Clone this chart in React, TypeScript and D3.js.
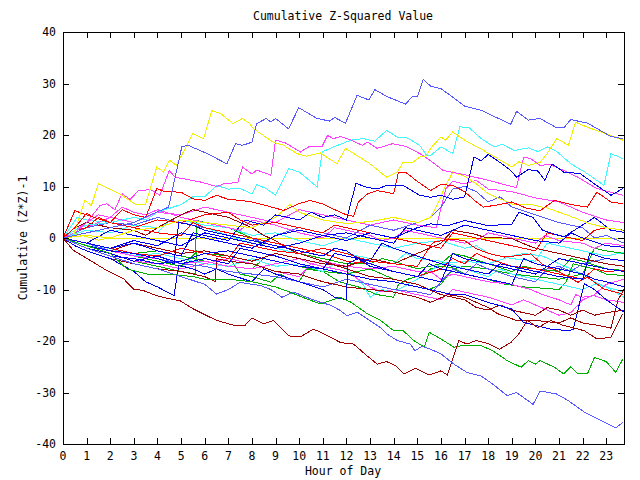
import React from 'react';
import * as d3 from 'd3';

type P = [number, number];

const hourTicks: number[] = d3.range(0, 24);
const valueTicks: number[] = [-40, -30, -20, -10, 0, 10, 20, 30, 40];
const titleText = 'Cumulative Z-Squared Value';
const xLabel = 'Hour of Day';
const yLabel = 'Cumulative (Z*Z)-1';

const RED = '#ff0000';
const DARKRED = '#a00000';
const GREEN = '#00b000';
const BLUE = '#0000ee';
const LIGHTBLUE = '#5858ff';
const MAGENTA = '#ff40ff';
const CYAN = '#40f8ff';
const YELLOW = '#f0f000';

const lightBlueTop: P[] = [[0,0],[1,1],[2,2],[3,3],[3.7,4.5],[4.47,6],[5.03,17.7],[5.3,18],[6.1,16.4],[6.94,14.4],[7.3,18.3],[7.6,18],[8.0,18.6],[8.2,22.2],[8.6,23.2],[8.8,22.5],[9.0,23.2],[9.55,21.2],[9.98,25.3],[10.76,23.2],[11.3,22.7],[11.5,23.4],[11.96,22.3],[12.45,27.7],[12.95,26.8],[13.2,28.8],[13.7,27.5],[14.5,26],[14.8,27.5],[15.0,27.4],[15.25,30.8],[15.56,29.5],[16.0,29],[16.4,27.7],[17.0,25.6],[17.7,24.8],[18.3,23.5],[18.96,22.1],[19.2,24.6],[19.7,22.9],[20.2,23.2],[20.9,21.4],[21.2,21.4],[21.5,23],[22.2,22.3],[23.2,19.7],[23.7,19.3]];
const yellowTop: P[] = [[0,0],[0.44,0.5],[0.93,7.3],[1.2,6.3],[1.5,10.5],[2.4,8.6],[3.05,6.6],[3.5,6.6],[3.97,13.8],[4.25,12.8],[4.5,15.1],[4.8,14.1],[5.5,20.3],[5.95,19.3],[6.3,24.7],[6.66,24.2],[7.2,22.2],[7.6,23.2],[7.9,22.2],[8.07,21.2],[8.9,18.6],[9.34,18],[9.9,16.4],[10.3,15.9],[10.9,16.5],[11.6,14.4],[11.96,17.4],[12.45,16],[13.0,14.4],[13.7,11.8],[14.15,12.8],[14.4,14.7],[14.8,14.7],[15.1,15.7],[15.4,16],[15.56,17.4],[16,19.6],[16.2,19],[16.5,20.6],[17,19],[18,16.5],[19,13.8],[19.3,14.8],[19.7,14.1],[20.2,14.7],[20.5,16.4],[20.9,19.3],[21.4,18],[21.7,22.5],[22.2,21.5],[22.9,20.4],[23.7,19]];
const magentaTop: P[] = [[0,0],[0.5,1],[1,3],[1.57,6.3],[1.85,6.65],[2.2,5.5],[2.5,8.6],[2.84,7.5],[3.2,9.2],[3.7,9.4],[4.1,8.3],[4.5,13.1],[4.75,11.8],[5.8,10.9],[6.5,10],[6.8,10.5],[7.4,10.8],[7.6,13.8],[8.0,12.4],[8.2,13.2],[8.8,12.2],[9.0,19],[9.4,18.5],[10.05,16.7],[10.4,17.7],[10.97,17.8],[11.2,19.9],[11.45,19.3],[11.75,19.7],[12.2,19],[12.67,18],[12.9,18.6],[13.3,17.4],[13.94,18.3],[14.5,17.8],[15.1,16.4],[15.56,15],[16.1,13.1],[17,12.3],[18,11.2],[19,10],[19.2,9.8],[19.5,15.7],[19.8,15.4],[20.2,14.1],[20.6,14.3],[21.2,13.1],[21.8,11.8],[22.6,9.6],[23.7,8.3]];
const cyanTop: P[] = [[0,0],[0.5,1.5],[1,2.5],[2,3],[3,4],[3.5,3.5],[4,5],[5,6.5],[5.5,8],[6,8],[6.5,10.2],[7,9.5],[7.5,9.6],[8.0,8.6],[8.2,10.4],[8.6,9.6],[9.0,8.3],[9.55,13.5],[10,12.8],[10.76,9.9],[10.97,16.7],[11.46,17.7],[12.2,19],[12.7,19.3],[13.2,18.8],[13.7,20.9],[14.15,19.6],[14.6,19.4],[15.1,18],[15.4,16],[15.56,16],[16,17.7],[16.5,16.4],[16.8,21.6],[17.2,21.4],[17.7,19.3],[18.25,17.7],[18.6,18.2],[19.1,17],[19.7,17.5],[20.1,16.8],[20.5,17.7],[20.9,16.8],[21.5,14.4],[22.2,12.5],[22.9,10.2],[23.2,16.4],[23.7,15.4]];
const blueHigh: P[] = [[0,0],[1,-1],[2,-2],[3,-1],[4,-2.5],[5,-3.5],[5.5,1],[6,0.5],[7,-0.5],[7.7,3.5],[8.5,2.5],[9,4.5],[10,3.5],[10.5,5],[11,4],[11.5,4.5],[12,3.5],[12.4,10.6],[12.9,9.8],[13.3,9.5],[13.7,10.2],[14.4,10.2],[15.1,8.3],[15.56,7.9],[16,8.3],[16.5,7.5],[17,8],[17.4,15.7],[17.7,15],[18,16.2],[18.4,15],[18.96,13.1],[19.2,11.8],[19.7,13.3],[20.1,13],[20.4,11.2],[20.7,14.4],[21.2,12.8],[21.9,12.5],[22.5,10.5],[23.2,8.3],[23.7,9.6]];
const redHigh: P[] = [[0,0],[0.5,2],[1,4.8],[1.3,4],[2,3],[2.5,5.5],[3,4.5],[3.5,4],[3.97,9.6],[4.3,9],[5.0,8.9],[5.5,7.6],[6,7.3],[6.5,8.3],[7,7.5],[7.5,7.3],[8,7],[8.6,6.3],[9.34,5.35],[9.98,6.65],[10.47,7.3],[11,6.6],[11.5,5.5],[12,4.5],[12.3,4.2],[12.5,7],[12.9,8.6],[13.3,9.2],[14,8.6],[14.2,12.8],[14.5,12.8],[15,11],[15.56,9.2],[16,10.4],[16.5,10.2],[17,9],[17.5,7],[17.8,6],[18.5,6.5],[19,7],[19.6,5.8],[20.2,5.3],[20.8,7.3],[21.5,6.5],[22.2,6],[22.6,8.9],[23.2,7],[23.7,6.65]];
const yellowMid: P[] = [[0,0],[1,0.5],[2,0],[3,1.5],[4,2],[5,3.5],[6,3],[7,2.5],[8,2],[9,4],[9.6,6.5],[10,5],[11,3.5],[12,2.8],[13,3.2],[14,4],[15,3],[15.56,4],[16,7.9],[16.1,9.2],[16.5,12.8],[17,12],[17.5,10.5],[18,8.6],[19,6.6],[19.8,6.5],[20.5,5.8],[21.2,4.7],[22.3,2.8],[23,2],[23.7,1.5]];
const yellowFlat: P[] = [[0,0],[0.5,0.8],[1,0.3],[1.5,-0.4],[2,0],[23.75,0]];
const magentaMid: P[] = [[0,0],[1,2],[2,4],[3,3],[4,5],[5,4.5],[6,6],[7,5],[8,4],[9,3],[10,5.5],[11,4.5],[12,3.5],[13,2.5],[14,3.5],[15,2.5],[15.8,2],[16.2,9.5],[16.5,11],[17,10.5],[17.5,11.2],[18,9.5],[19,9],[20,7.8],[21,7],[22,5],[23,3.5],[23.75,3]];
const lightBlueBottom: P[] = [[0,0],[1,-2],[2,-3.5],[3,-5],[4,-6],[5,-7.5],[6,-9],[6.5,-10.9],[7,-10],[7.5,-8.6],[8,-9],[8.35,-9.2],[8.8,-10],[9.27,-11.5],[9.77,-10.5],[10.3,-11.5],[10.9,-12.5],[11.3,-13],[11.75,-14.1],[12.03,-15.1],[12.45,-14.4],[12.88,-15.7],[13.44,-17.4],[13.7,-18.6],[14.15,-19.9],[14.7,-20.6],[14.9,-21.9],[15.2,-21],[15.56,-21.6],[16,-22.5],[16.55,-24.5],[17.1,-26.1],[17.7,-26.8],[18.2,-28.4],[18.8,-30.6],[19.2,-30],[19.9,-32.3],[20.2,-29.7],[20.9,-30.3],[21.4,-31.6],[22.1,-33.9],[22.8,-35.5],[23.4,-36.9],[23.7,-35.8]];
const greenBottom: P[] = [[0,0],[1,-1.5],[2,-3],[2.7,-6],[3.55,-7],[4.5,-7],[5.5,-7.5],[6,-8],[7,-8],[8,-8.5],[9,-9.5],[9.6,-10.5],[10.3,-11.8],[10.9,-12.8],[11.4,-12],[11.75,-11.5],[12.2,-12.5],[12.88,-14.7],[13.44,-16],[14,-18],[14.4,-18],[14.85,-19.9],[15.3,-21.2],[15.5,-18.3],[16,-19.6],[16.55,-21.2],[17,-20.8],[17.7,-20.9],[18.2,-21.9],[18.8,-23.8],[19.4,-25.1],[19.7,-23.8],[20,-24.5],[20.2,-23.8],[20.8,-25.1],[21.2,-26.4],[21.5,-25],[21.8,-26.4],[22.2,-26.4],[22.5,-23.2],[23,-24],[23.4,-26.1],[23.7,-23.5]];
const darkRedBottom: P[] = [[0,0],[0.44,-2.4],[1.2,-4.5],[1.85,-6.3],[2.56,-7.9],[2.98,-9.9],[3.4,-10.2],[3.97,-11.2],[4.5,-11.8],[4.96,-12.2],[5.53,-13.8],[6.1,-15.1],[6.5,-16],[7.2,-16.9],[7.7,-17],[8,-15.5],[8.5,-16.7],[8.9,-16],[9.55,-19],[10.05,-19.2],[10.6,-17.7],[11,-18.5],[11.75,-20.3],[12.3,-20.6],[12.88,-22.9],[13.3,-24.5],[13.7,-24],[14.08,-24.8],[14.43,-26.4],[14.93,-25.3],[15.5,-26.6],[16,-25.8],[16.27,-26.6],[16.76,-19.9],[17.1,-20.6],[17.5,-19.9],[18,-20.5],[18.47,-21.6],[18.96,-20.3],[19.3,-18.6],[19.66,-16],[20.1,-17.4],[20.65,-16],[21.2,-17],[22.07,-18],[22.6,-19.6],[23.2,-19.3],[23.7,-14.7]];
const blueLow: P[] = [[0,0],[1,-2],[2,-3.5],[3,-4],[4,-5],[5,-4.5],[6,-3],[7,-2.5],[8,-3.5],[9,-4.5],[10,-5.5],[11,-6],[12,-7],[13,-8],[14,-8.5],[15,-9.5],[16,-10.5],[16.4,-10.9],[17,-11],[18,-12.5],[19,-13.8],[19.5,-16.4],[20.65,-17.7],[21.4,-18],[21.6,-17.7],[22.07,-8.9],[22.5,-10],[23,-12],[23.75,-14.4]];
const darkRedMid: P[] = [[0,0],[0.5,-1.5],[1,-2.5],[2,-4],[3,-5],[4,-6],[5,-6.5],[6,-7.5],[6.45,-8.5],[6.5,-4],[7,-4.5],[8,-5],[9,-6.5],[10,-7],[11,-8.5],[12,-9.5],[13,-10],[14,-10.5],[15,-11.5],[15.56,-12.5],[16.3,-11],[17,-11.5],[18,-13.5],[18.4,-14.7],[19.2,-16],[20,-16],[21,-16.5],[21.5,-15.5],[22,-16.5],[22.7,-17],[23.2,-17.5],[23.5,-12],[23.75,-10]];
const darkRedLate: P[] = [[0,0],[1,-1.5],[2,-2.5],[3,-1],[4,-2],[5,-3],[6,-2.5],[7,-3.5],[8,-4.5],[9,-3],[10,-4],[11,-5],[12,-5.5],[13,-4],[14,-5],[15,-3],[16,-1],[16.5,1.5],[17.4,0.8],[17.8,0.2],[19,-0.1],[19.5,-1.1],[20,-2],[21,-3],[22,-4],[23,-5],[23.75,-5.5]];
const greenMid: P[] = [[0,0],[1,-1.5],[2,-3],[3,-4.5],[4,-5.5],[5,-6.5],[5.6,-7],[5.65,-2.5],[6,-3],[7,-3.5],[7.5,-7],[8,-7.5],[8.8,-8.6],[9.2,-7],[9.6,-7.9],[10,-8.5],[10.3,-6],[11,-6.5],[11.7,-8.5],[12.5,-9.5],[13.3,-11],[14,-11.5],[14.2,-9],[14.6,-8],[15.3,-7],[15.56,-6],[16,-5.5],[16.5,-5.8],[17,-7],[18,-8],[18.5,-8.8],[19.5,-9.5],[20.5,-9.8],[21,-10],[21.3,-8.5],[21.6,-5],[22,-5.5],[22.5,-6],[23,-7],[23.75,-7.3]];
const greenUpper: P[] = [[0,0],[1,-1],[2,-2.5],[3,-3.5],[4,-4.5],[5,-5.5],[5.6,-3],[5.67,3.4],[6,3],[7,2],[7.5,1],[8,0],[8.5,-1.5],[9,-2],[10,-3],[11,-4],[12,-5],[13,-5],[13.5,-4],[14,-4.5],[15,-6],[16,-5],[16.5,-3],[17,-3.5],[18,-5],[19,-6.5],[19.5,-5.5],[20,-6],[21,-6.5],[21.5,-4],[22,-4.5],[23,-6],[23.75,-6.3]];
const greenLow: P[] = [[0,0],[1,-1.5],[2,-2],[3,-3],[4,-2.5],[5,-3.5],[6,-4.5],[7,-5.5],[8,-6],[8.5,-4],[9,-4.5],[10,-5.5],[11,-6.5],[12,-7],[13,-6],[13.5,-7],[14,-8],[15,-9],[15.5,-10],[16,-9],[16.5,-6],[17,-5.5],[18,-6],[19,-7],[20,-7.5],[21,-8],[22,-7],[22.5,-2],[23,-2.5],[23.75,-3]];
const magentaLow: P[] = [[0,0],[1,-1],[2,-2.5],[3,-3.5],[4,-4],[5,-5],[6,-4.5],[7,-5.5],[8,-6],[9,-5],[10,-4],[10.5,-5],[11,-4.5],[12,-5.5],[13,-6],[14,-5.5],[15,-6.5],[15.56,-6.5],[16,-8],[16.5,-7],[17,-7.5],[18,-8.5],[19,-9],[19.8,-10],[20.3,-11],[21,-12],[21.5,-13],[21.7,-11],[22,-11.5],[22.5,-11.2],[23,-12],[23.75,-12.5]];
const magentaLow2: P[] = [[0,0],[1,-2],[2,-3],[3,-4.5],[4,-5],[5,-6],[6,-5],[7,-4],[8,-5],[9,-6.5],[10,-7.5],[10.5,-5],[11,-5.5],[12,-6.5],[12.5,-8],[13,-9.5],[13.5,-10.5],[14,-10],[15,-11],[16,-12],[16.5,-10],[17,-10.5],[18,-11.5],[19,-13],[19.5,-12],[20,-13],[20.5,-14],[21,-15],[21.5,-14.5],[22,-12],[22.5,-11],[23,-9],[23.75,-8]];
const magentaEarly: P[] = [[0,0],[1,3],[1.5,4.5],[2,4],[2.5,6],[3,5],[3.5,4.5],[4,5.5],[5,4],[6,3],[7,2],[7.5,1.5],[8,3.5],[9,2.5],[10,1],[11,0],[11.5,2],[12,1.5],[13,0.5],[13.5,-0.5],[14,0],[14.5,1.5],[15,1],[16,0],[17,-1],[17.5,-0.5],[18,1],[19,0],[20,-1],[20.4,0.5],[21,-0.5],[22,-1],[22.5,-2],[23,-1],[23.75,-1.5]];
const cyanLow: P[] = [[0,0],[1,-1.5],[2,-2],[3,-3.5],[4,-3],[5,-4],[6,-5],[7,-5.5],[8,-4],[9,-5.5],[10,-5],[11,-6.5],[11.5,-5],[12,-6],[12.7,-9],[13,-11.5],[13.5,-10],[14,-10.5],[15,-8],[16,-5],[17,-4.5],[18,-5],[19,-3.5],[19.5,-3],[20.3,-3.5],[21,-5],[22,-7],[22.5,-8.5],[23,-9.5],[23.75,-11.5]];
const cyanMid: P[] = [[0,0],[1,1.5],[2,1],[3,2.5],[4,2],[5,3.5],[6,2.5],[7,2],[8,0.5],[9,1],[10,-0.5],[11,-1.5],[12,0],[13,-1],[14,-2],[15,-1],[16,-0.5],[17,-2],[17.5,-1.5],[18,-3],[19,-4],[20,-4.5],[20.5,-1],[21,-1.5],[22,-2.5],[23,-3.5],[23.75,-2.8]];
const cyanEarly: P[] = [[0,0],[0.6,4],[1,3.5],[2,3],[3,2],[4,1],[4.5,3.5],[5,3],[6,2],[7,0.5],[8,-1],[9,-2],[10,-3],[11,-2],[12,-3],[13,-4],[14,-5],[14.5,-3],[15,-4],[16,-4.5],[17,-6],[18,-7.5],[18.5,-6],[19,-7],[20,-8],[21,-9],[22,-10],[22.5,-9],[23,-9.5],[23.75,-10.5]];
const blueMidA: P[] = [[0,0],[1,-1],[2,-2],[3,-0.5],[4,-1.5],[5,1],[6,0],[7,-1],[8,-2],[9,0.5],[10,1.5],[11,0.5],[12,1],[13,0],[14,-1],[14.5,2],[15,1.5],[16,0.5],[17,2.5],[18,1.5],[19,0.5],[20,-0.5],[21,-1],[21.5,1],[22,0],[23,-1.5],[23.75,-1.8]];
const blueMidB: P[] = [[0,0],[1,-2],[2,-3],[3,-4.5],[4,-3.5],[5,-5],[6,-4],[7,-5],[7.5,-2],[8,-2.5],[9,-3.5],[10,-5],[11,-6],[11.5,-3],[12,-3.5],[13,-4.5],[13.5,-1],[14,-2],[15,-3.5],[16,-5],[17,-6],[18,-7],[18.5,-5],[19,-5.5],[20,-6.5],[21,-7.5],[22,-8],[22.3,-3],[23,-4],[23.75,-4.4]];
const blueMidC: P[] = [[0,0],[1,-1.5],[2,-2.5],[3,-3],[4,-4],[4.7,-5],[4.9,3],[5.5,2.5],[6,1.5],[7,0.5],[8,-0.5],[9,-1.5],[10,-2.5],[11,-3.5],[11.5,-2],[12,-2.5],[12.5,-4],[13,-5],[14,-6.5],[15,-7.5],[15.5,-5],[16,-6],[17,-7],[18,-8],[19,-9],[19.5,-4],[20,-5],[21,-6],[22,-7],[22.5,-8],[23,-8.5],[23.75,-9.5]];
const blueUpperLate: P[] = [[0,0],[1,-1],[2,1.5],[3,0.5],[4,-0.5],[5,-1.5],[6,1],[7,0],[8,-1],[9,-2],[10,-1],[11,0.5],[12,-0.5],[13,1],[14,0],[15,2],[15.56,2.75],[16.3,2.4],[17,3.4],[18,2.4],[19,2.7],[19.3,5],[19.9,4],[20.3,1.5],[21.2,0.2],[22.5,4],[23.2,1.5],[23.75,1.1]];
const blueDip: P[] = [[0,0],[0.5,-1.5],[1,-2.5],[2,-4],[3,-6.5],[3.5,-8.5],[4,-9.5],[4.7,-11.2],[4.9,-5.3],[5.5,-6],[6,-7],[6.5,-6],[7,-7],[8,-8.5],[8.5,-6],[9,-7],[10,-8.5],[11,-10],[11.5,-11.5],[12,-12],[12.05,-5],[12.5,-4],[13,-5.5],[14,-6.5],[15,-7.5],[16,-8.5],[16.5,-3],[17,-4],[18,-5],[19,-6],[20,-7],[21,-4],[22,-5],[23,-6],[23.75,-6.5]];
const redMidA: P[] = [[0,0],[0.5,5.3],[1,4.5],[2,3],[3,2],[4,1],[5,0.5],[5.5,3],[6,2],[7,1],[8,0],[9,-1],[10,-2],[11,-3],[12,-4.5],[13,-5],[14,-6.5],[15,-7.5],[16,-6],[16.5,-4],[17,-5],[17.5,-3],[18,-4],[19,-5.5],[20,-6],[21,-7],[22,-8],[22.5,-6],[23,-6.5],[23.75,-6.3]];
const redMidB: P[] = [[0,0],[1,-1],[2,-2],[3,-3],[4,-3.5],[5,-2],[6,-3],[7,-4],[7.5,-1],[8,-1.5],[9,-2.5],[10,-3],[11,-2],[12,-3],[13,-4.5],[14,-5],[15,-5.5],[15.56,-1.5],[15.7,-0.8],[16.4,-0.2],[17,-0.5],[17.5,-2.1],[18.1,-3.1],[18.7,-3.7],[19.8,-3.1],[20.35,-5.3],[20.9,-6.3],[21.8,-8.6],[22.2,-7.6],[22.9,-9.9],[23.7,-10.9]];
const redMidC: P[] = [[0,0],[0.5,1.5],[1,2],[1.5,4],[2,3],[3,2],[4,3.5],[5,3],[6,4.5],[7,5],[7.5,3.5],[8,2.5],[9,3],[10,2],[11,1],[11.5,2.5],[12,2],[13,1],[14,0],[15,-1],[16,-2],[16.5,1],[17,0.5],[18,-0.5],[19,-1.5],[20,-2.5],[20.5,1],[21,0.5],[22,-0.5],[22.5,1.5],[23,2],[23.75,1.5]];
const darkRedUpper: P[] = [[0,0],[0.5,2],[1,3],[2,2],[3,1.5],[3.5,0.5],[4,2],[5,4.5],[5.5,5.5],[6,5],[7,4],[7.5,3],[8,2],[8.5,0.5],[9,-0.5],[9.5,-2],[10,-3],[11,-4.5],[12,-6],[13,-7.5],[14,-8],[15,-9],[15.5,-10],[16,-11],[17,-12],[17.5,-13.5],[18,-14],[18.5,-13],[19,-14],[20,-15],[20.5,-13.5],[21,-14],[21.5,-15],[22,-14],[22.5,-15],[23,-14.5],[23.75,-14]];
const lightBlueMid: P[] = [[0,0],[1,-1],[2,-2.5],[3,-3],[4,-4],[5,-5],[6,-5.5],[7,-6.5],[8,-7],[9,-7.5],[10,-8.5],[11,-9.5],[12,-8],[13,-9],[14,-10],[15,-10.5],[15.56,-11],[16,-8.5],[16.5,-6],[17,-7],[17.5,-5],[18,-6],[19,-7.5],[20,-8.5],[20.5,-6],[21,-5.5],[21.5,-6.5],[22,-5],[22.5,-4.5],[23,-4],[23.75,-4.4]];
const lightBlueUpper: P[] = [[0,0],[1,2],[2,3],[3,2.5],[4,4],[5,3],[6,2],[7,1],[8,0],[8.5,-1],[9,0.5],[10,2],[11,1],[12,0],[13,2.5],[14,1.5],[15,3],[15.56,4],[16,6],[16.5,9.5],[17,10],[17.5,9],[18,7],[18.5,8],[19,6],[20,4.5],[21,3],[22,2],[22.5,0],[23,0.5],[23.75,-1]];

const series: { data: P[]; color: string }[] = [
  { data: yellowFlat, color: YELLOW },
  { data: greenUpper, color: GREEN },
  { data: greenMid, color: GREEN },
  { data: greenLow, color: GREEN },
  { data: cyanLow, color: CYAN },
  { data: cyanMid, color: CYAN },
  { data: cyanEarly, color: CYAN },
  { data: magentaLow, color: MAGENTA },
  { data: magentaLow2, color: MAGENTA },
  { data: magentaEarly, color: MAGENTA },
  { data: magentaMid, color: MAGENTA },
  { data: lightBlueMid, color: LIGHTBLUE },
  { data: lightBlueUpper, color: LIGHTBLUE },
  { data: darkRedMid, color: DARKRED },
  { data: darkRedUpper, color: DARKRED },
  { data: darkRedLate, color: DARKRED },
  { data: redMidA, color: RED },
  { data: redMidB, color: RED },
  { data: redMidC, color: RED },
  { data: blueMidA, color: BLUE },
  { data: blueMidB, color: BLUE },
  { data: blueMidC, color: BLUE },
  { data: blueUpperLate, color: BLUE },
  { data: blueDip, color: BLUE },
  { data: blueLow, color: BLUE },
  { data: yellowMid, color: YELLOW },
  { data: cyanTop, color: CYAN },
  { data: magentaTop, color: MAGENTA },
  { data: yellowTop, color: YELLOW },
  { data: redHigh, color: RED },
  { data: blueHigh, color: BLUE },
  { data: greenBottom, color: GREEN },
  { data: darkRedBottom, color: DARKRED },
  { data: lightBlueBottom, color: LIGHTBLUE },
  { data: lightBlueTop, color: LIGHTBLUE },
];

const FONT = '"DejaVu Sans Mono", "Liberation Mono", monospace';

export default function App() {
  const left = 63, right = 624, top = 32, bottom = 444;
  const x = d3.scaleLinear().domain([0, 23.75]).range([left, right]);
  const y = d3.scaleLinear().domain([-40, 40]).range([bottom, top]);
  const line = d3.line<P>().x(d => x(d[0])).y(d => y(d[1]));
  const tl = 6;
  return (
    <svg width={640} height={480} style={{ position: 'absolute', left: 0, top: 0, background: '#fff' }}>
      <rect x={0} y={0} width={640} height={480} fill="#fff" />
      <g shapeRendering="crispEdges" fill="none" strokeWidth={1}>
        {series.map((s, i) => (
          <path key={i} d={line(s.data) || ''} stroke={s.color} />
        ))}
      </g>
      <g shapeRendering="crispEdges" stroke="#000" strokeWidth={1}>
        <rect x={left + 0.5} y={top + 0.5} width={right - left} height={bottom - top} fill="none" />
        {hourTicks.map(h => (
          <g key={'h' + h}>
            <line x1={Math.round(x(h)) + 0.5} x2={Math.round(x(h)) + 0.5} y1={bottom} y2={bottom - tl} />
            <line x1={Math.round(x(h)) + 0.5} x2={Math.round(x(h)) + 0.5} y1={top} y2={top + tl} />
          </g>
        ))}
        {valueTicks.map(v => (
          <g key={'v' + v}>
            <line x1={left} x2={left + tl} y1={Math.round(y(v)) + 0.5} y2={Math.round(y(v)) + 0.5} />
            <line x1={right} x2={right - tl} y1={Math.round(y(v)) + 0.5} y2={Math.round(y(v)) + 0.5} />
          </g>
        ))}
      </g>
      <g fontFamily={FONT} fontSize={11.5} fill="#000">
        {hourTicks.map(h => (
          <text key={'ht' + h} x={x(h)} y={460} textAnchor="middle">{String(h)}</text>
        ))}
        {valueTicks.map(v => (
          <text key={'vt' + v} x={56} y={y(v) + 4} textAnchor="end">{String(v)}</text>
        ))}
        <text x={343} y={20} textAnchor="middle">{titleText}</text>
        <text x={343} y={475} textAnchor="middle">{xLabel}</text>
        <text transform={`translate(27,238) rotate(-90)`} textAnchor="middle">{yLabel}</text>
      </g>
    </svg>
  );
}
